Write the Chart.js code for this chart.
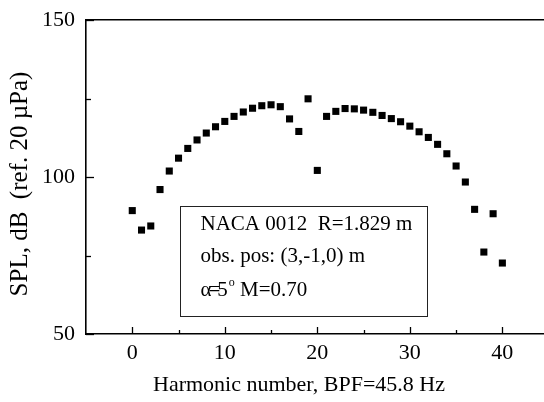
<!DOCTYPE html>
<html>
<head>
<meta charset="utf-8">
<script src="https://cdn.jsdelivr.net/npm/chart.js@4.4.1/dist/chart.umd.min.js"></script>
<style>
  html, body { margin: 0; padding: 0; background: #ffffff; }
  #wrap { width: 544px; height: 402px; }
</style>
</head>
<body>
<div id="wrap"><canvas id="c" width="544" height="402"></canvas></div>
<script>
// ---- data ----
const harmonics = [0,1,2,3,4,5,6,7,8,9,10,11,12,13,14,15,16,17,18,19,20,
                   21,22,23,24,25,26,27,28,29,30,31,32,33,34,35,36,37,38,39,40];
const splValues = [89.3, 83.1, 84.4, 96.0, 101.9, 106.0, 109.1, 111.8, 114.0, 116.0,
                   117.7, 119.3, 120.7, 121.9, 122.7, 123.0, 122.4, 118.5, 114.5, 124.9,
                   102.1, 119.3, 120.9, 121.8, 121.7, 121.3, 120.6, 119.6, 118.6, 117.6,
                   116.2, 114.4, 112.6, 110.4, 107.4, 103.5, 98.4, 89.7, 76.1, 88.3, 72.6];
const xTickLabels = ['0', '10', '20', '30', '40'];
const yTickLabels = ['50', '100', '150'];
const boxLines = ['NACA 0012  R=1.829 m', 'obs. pos: (3,-1,0) m'];
const xTitle = 'Harmonic number, BPF=45.8 Hz';
const yTitle = 'SPL, dB  (ref. 20 \u00B5Pa)';

const FONT = "'Liberation Serif', 'Times New Roman', serif";

// fix the plot area to the reference's pixel frame
const frame = {
  id: 'frame',
  afterLayout(chart) {
    const a = chart.chartArea;
    a.left = 86; a.right = 544; a.top = 20; a.bottom = 334;
    a.width = a.right - a.left; a.height = a.bottom - a.top;
    const xs = chart.scales.x, xt = chart.scales.xTop, ys = chart.scales.y;
    [xs, xt].forEach(s => {
      s.left = a.left; s.right = a.right; s.width = a.width;
      s.configure();
    });
    xs.top = a.bottom; xs.bottom = 402; xs.height = 402 - a.bottom;
    xt.top = 0; xt.bottom = a.top; xt.height = a.top;
    ys.top = a.top; ys.bottom = a.bottom; ys.height = a.height;
    ys.left = 0; ys.right = a.left; ys.width = a.left;
    ys.configure();
  }
};

const axisTitles = {
  id: 'axisTitles',
  afterDraw(chart) {
    const ctx = chart.ctx;
    ctx.save();
    ctx.fillStyle = '#000';
    ctx.textAlign = 'center';
    ctx.textBaseline = 'middle';
    ctx.font = '22px ' + FONT;
    ctx.fillText(xTitle, 299, 385);
    ctx.translate(20, 184);
    ctx.rotate(-Math.PI / 2);
    ctx.font = '25px ' + FONT;
    ctx.fillText(yTitle, 0, 0);
    ctx.restore();
  }
};

const inwardTicks = {
  id: 'inwardTicks',
  afterDraw(chart) {
    const ctx = chart.ctx;
    const xs = chart.scales.x, ys = chart.scales.y;
    const area = chart.chartArea;
    ctx.save();
    ctx.strokeStyle = '#000';
    ctx.lineWidth = 1.3;
    xs.ticks.forEach(t => {
      const px = Math.round(xs.getPixelForValue(t.value)) + 0.5;
      const len = (t.value % 10 === 0) ? 7 : 4;
      ctx.beginPath();
      ctx.moveTo(px, area.bottom);
      ctx.lineTo(px, area.bottom - len);
      ctx.stroke();
    });
    ys.ticks.forEach(t => {
      const py = Math.round(ys.getPixelForValue(t.value)) + 0.5;
      const len = (t.value % 50 === 0) ? 8 : 5;
      ctx.beginPath();
      ctx.moveTo(area.left, py);
      ctx.lineTo(area.left + len, py);
      ctx.stroke();
    });
    ctx.restore();
  }
};

const infoBox = {
  id: 'infoBox',
  afterDraw(chart) {
    const ctx = chart.ctx;
    const xs = chart.scales.x, ys = chart.scales.y;
    const x0 = Math.round(xs.getPixelForValue(5.15)) + 0.5;
    const x1 = Math.round(xs.getPixelForValue(31.85)) + 0.5;
    const y0 = Math.round(ys.getPixelForValue(90.8)) + 0.5;
    const y1 = Math.round(ys.getPixelForValue(55.7)) + 0.5;
    ctx.save();
    ctx.fillStyle = '#fff';
    ctx.fillRect(x0, y0, x1 - x0, y1 - y0);
    ctx.strokeStyle = '#222';
    ctx.lineWidth = 1;
    ctx.strokeRect(x0, y0, x1 - x0, y1 - y0);
    ctx.fillStyle = '#000';
    ctx.font = '21px ' + FONT;
    ctx.textBaseline = 'alphabetic';
    const tx = x0 + 20;
    ctx.fillText(boxLines[0], tx, y0 + 23);
    ctx.fillText(boxLines[1], tx, y0 + 55);
    let cx = tx;
    const base3 = y0 + 89;
    const s1 = '\u03B1=5';
    ctx.letterSpacing = '-3px';
    ctx.fillText(s1, cx, base3);
    cx += ctx.measureText(s1).width + 4;
    ctx.letterSpacing = '0px';
    ctx.font = '12px ' + FONT;
    ctx.fillText('o', cx, base3 - 10);
    cx += ctx.measureText('o').width;
    ctx.font = '21px ' + FONT;
    ctx.fillText(' M=0.70', cx, base3);
    ctx.restore();
  }
};

new Chart(document.getElementById('c'), {
  type: 'scatter',
  data: {
    datasets: [{
      data: harmonics.map((h, i) => ({ x: h, y: splValues[i] })),
      pointStyle: 'rect',
      pointRadius: 5,
      pointHoverRadius: 5,
      backgroundColor: '#000',
      borderWidth: 0
    }]
  },
  options: {
    responsive: false,
    animation: false,
    devicePixelRatio: 1,
    layout: { padding: 0 },
    plugins: { legend: { display: false }, tooltip: { enabled: false } },
    scales: {
      x: {
        type: 'linear',
        position: 'bottom',
        min: -5,
        max: 44.5,
        afterBuildTicks(scale) {
          const arr = [];
          for (let v = 0; v <= 40; v += 5) arr.push({ value: v });
          scale.ticks = arr;
        },
        grid: { display: false, drawTicks: false },
        border: { display: true, color: '#000', width: 1.6 },
        ticks: {
          color: '#000',
          font: { family: FONT, size: 22 },
          padding: 6,
          maxRotation: 0,
          autoSkip: false,
          callback(v) { return xTickLabels.includes(String(v)) ? String(v) : ''; }
        },
        title: { display: false }
      },
      xTop: {
        type: 'linear',
        position: 'top',
        min: -5,
        max: 44.5,
        grid: { display: false, drawTicks: false },
        border: { display: true, color: '#000', width: 1.6 },
        ticks: { display: false }
      },
      y: {
        type: 'linear',
        min: 50,
        max: 150,
        afterBuildTicks(scale) {
          const arr = [];
          for (let v = 50; v <= 150; v += 25) arr.push({ value: v });
          scale.ticks = arr;
        },
        grid: { display: false, drawTicks: false },
        border: { display: true, color: '#000', width: 1.6 },
        ticks: {
          color: '#000',
          font: { family: FONT, size: 22 },
          padding: 11,
          autoSkip: false,
          callback(v) { return yTickLabels.includes(String(v)) ? String(v) : ''; }
        },
        title: { display: false }
      }
    }
  },
  plugins: [frame, axisTitles, inwardTicks, infoBox]
});
</script>
</body>
</html>
